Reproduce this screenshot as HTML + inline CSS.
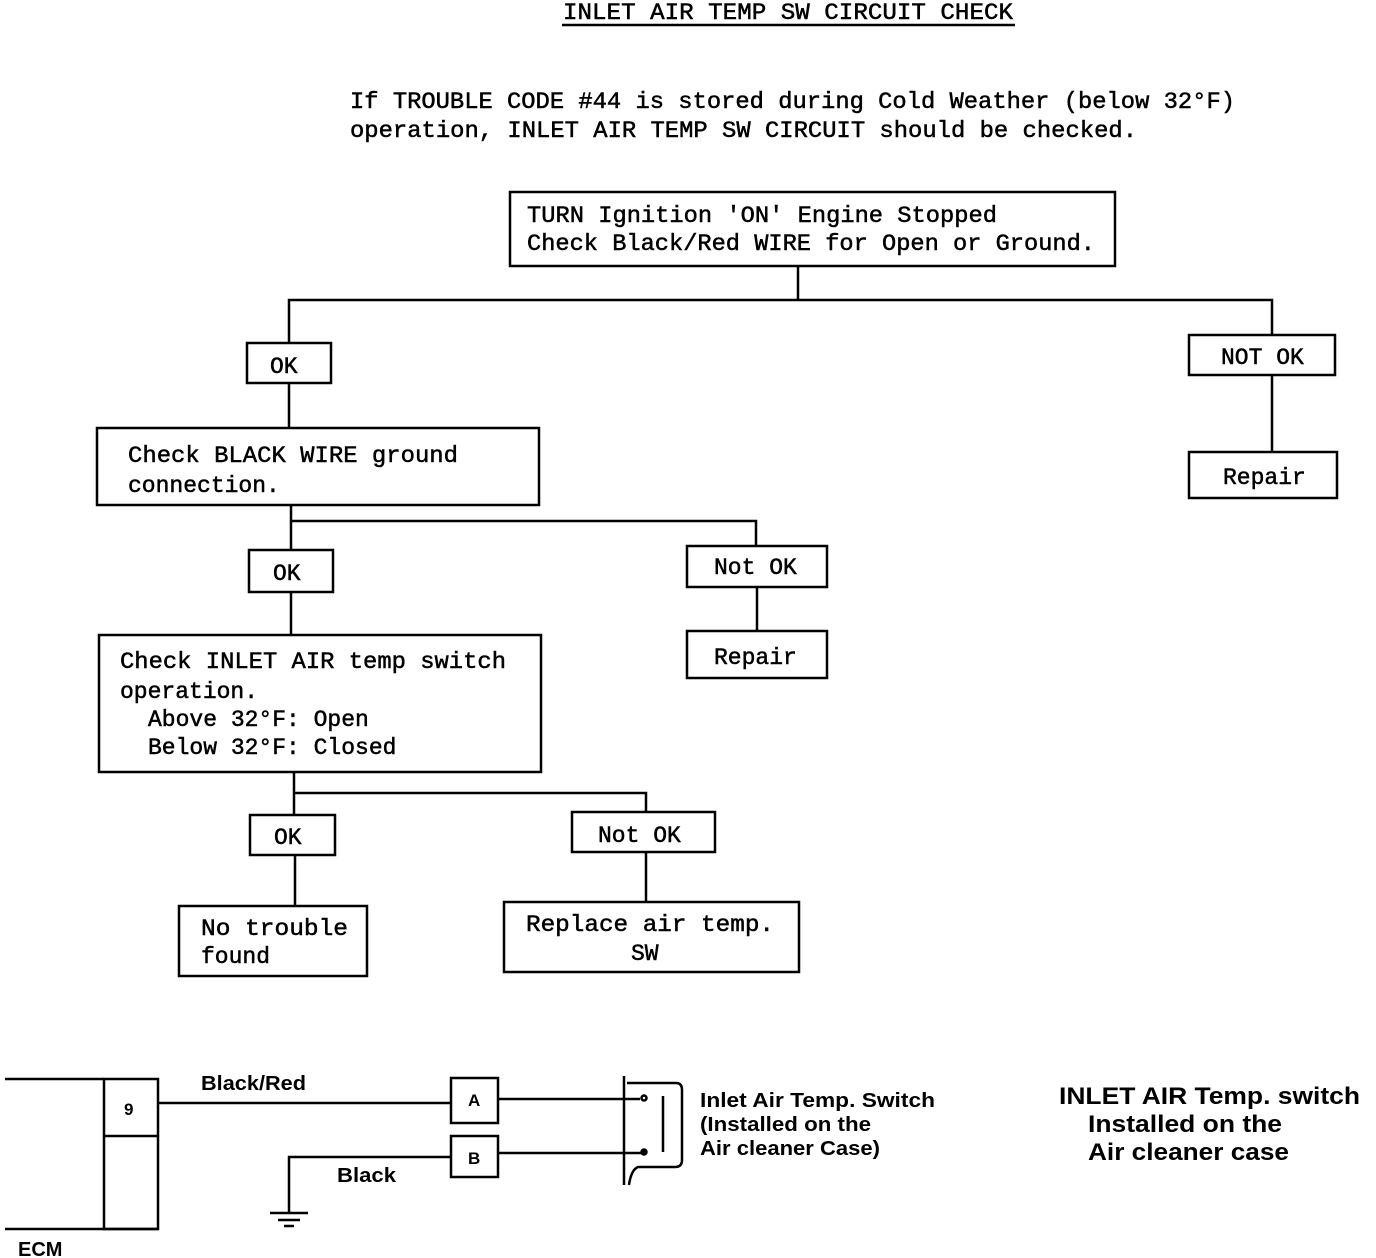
<!DOCTYPE html>
<html><head><meta charset="utf-8"><style>
html,body{margin:0;padding:0;background:#fff;}
svg{display:block}
.m{font-family:"Liberation Mono","DejaVu Sans Mono",monospace;font-size:23px;fill:#000;stroke:#000;stroke-width:0.5}
.s{font-family:"Liberation Sans",Arial,sans-serif;font-weight:bold;fill:#000}
</style></head><body>
<svg width="1376" height="1258" viewBox="0 0 1376 1258" xmlns="http://www.w3.org/2000/svg">
<g fill="none" stroke="#000" stroke-width="2.5">
<line x1="562" y1="25" x2="1015" y2="25"/>
<rect x="510" y="192" width="605" height="74"/>
<polyline points="798,266 798,300"/>
<polyline points="289,343 289,300 1272,300 1272,335"/>
<rect x="247" y="343" width="84" height="40"/>
<rect x="1189" y="335" width="146" height="40"/>
<line x1="1272" y1="375" x2="1272" y2="452"/>
<rect x="1189" y="452" width="148" height="46"/>
<line x1="289" y1="383" x2="289" y2="428"/>
<rect x="97" y="428" width="442" height="77"/>
<polyline points="291,505 291,550"/>
<polyline points="291,521 756,521 756,546"/>
<rect x="249" y="550" width="84" height="42"/>
<rect x="687" y="546" width="140" height="41"/>
<line x1="757" y1="587" x2="757" y2="631"/>
<rect x="687" y="631" width="140" height="47"/>
<line x1="291" y1="592" x2="291" y2="635"/>
<rect x="99" y="635" width="442" height="137"/>
<line x1="294" y1="772" x2="294" y2="815"/>
<polyline points="294,793 646,793 646,812"/>
<rect x="250" y="815" width="85" height="40"/>
<rect x="572" y="812" width="143" height="40"/>
<line x1="295" y1="855" x2="295" y2="906"/>
<rect x="179" y="906" width="188" height="70"/>
<line x1="646" y1="852" x2="646" y2="902"/>
<rect x="504" y="902" width="295" height="70"/>
<polyline points="5,1079 104,1079"/>
<rect x="104" y="1079" width="54" height="150"/>
<line x1="104" y1="1136" x2="158" y2="1136"/>
<line x1="5" y1="1229" x2="158" y2="1229"/>
<line x1="158" y1="1103" x2="451" y2="1103"/>
<rect x="451" y="1078" width="47" height="45"/>
<line x1="498" y1="1099" x2="640" y2="1099"/>
<rect x="451" y="1136" width="47" height="41"/>
<line x1="498" y1="1153" x2="645" y2="1153"/>
<polyline points="451,1157 289,1157 289,1213"/>
<line x1="270" y1="1213" x2="308" y2="1213"/>
<line x1="278" y1="1220" x2="300" y2="1220"/>
<line x1="284" y1="1226" x2="294" y2="1226"/>
<line x1="624" y1="1076" x2="624" y2="1185"/>
<path d="M627,1083 L676,1083 Q682,1083 682,1090 L682,1160 Q682,1167 675,1167 L638,1167 Q631,1170 629,1185"/>
<line x1="663" y1="1096" x2="663" y2="1152"/>
<circle cx="644" cy="1098" r="2.5"/>
<circle cx="644" cy="1152" r="2.5" fill="#000"/>
</g>
<text x="563" y="19" class="m" textLength="450" lengthAdjust="spacingAndGlyphs">INLET AIR TEMP SW CIRCUIT CHECK</text>
<text x="350" y="108" class="m" textLength="885" lengthAdjust="spacingAndGlyphs">If TROUBLE CODE #44 is stored during Cold Weather (below 32°F)</text>
<text x="350" y="137" class="m" textLength="787" lengthAdjust="spacingAndGlyphs">operation, INLET AIR TEMP SW CIRCUIT should be checked.</text>
<text x="527" y="222" class="m" textLength="470" lengthAdjust="spacingAndGlyphs">TURN Ignition 'ON' Engine Stopped</text>
<text x="527" y="250" class="m" textLength="568" lengthAdjust="spacingAndGlyphs">Check Black/Red WIRE for Open or Ground.</text>
<text x="270" y="373" class="m">OK</text>
<text x="1221" y="364" class="m">NOT OK</text>
<text x="1223" y="484" class="m">Repair</text>
<text x="128" y="462" class="m" textLength="330" lengthAdjust="spacingAndGlyphs">Check BLACK WIRE ground</text>
<text x="128" y="492" class="m">connection.</text>
<text x="273" y="580" class="m">OK</text>
<text x="714" y="574" class="m">Not OK</text>
<text x="714" y="664" class="m">Repair</text>
<text x="120" y="668" class="m" textLength="386" lengthAdjust="spacingAndGlyphs">Check INLET AIR temp switch</text>
<text x="120" y="698" class="m">operation.</text>
<text x="148" y="726" class="m">Above 32°F: Open</text>
<text x="148" y="754" class="m">Below 32°F: Closed</text>
<text x="274" y="844" class="m">OK</text>
<text x="598" y="842" class="m">Not OK</text>
<text x="201" y="935" class="m" textLength="147" lengthAdjust="spacingAndGlyphs">No trouble</text>
<text x="201" y="963" class="m">found</text>
<text x="526" y="931" class="m" textLength="248" lengthAdjust="spacingAndGlyphs">Replace air temp.</text>
<text x="631" y="960" class="m">SW</text>
<text x="124" y="1115" class="s" font-size="17">9</text>
<text x="201" y="1090" class="s" font-size="20" textLength="105" lengthAdjust="spacingAndGlyphs">Black/Red</text>
<text x="468" y="1106" class="s" font-size="17">A</text>
<text x="468" y="1164" class="s" font-size="17">B</text>
<text x="337" y="1182" class="s" font-size="20" textLength="59" lengthAdjust="spacingAndGlyphs">Black</text>
<text x="18" y="1256" class="s" font-size="20">ECM</text>
<text x="700" y="1107" class="s" font-size="20" textLength="235" lengthAdjust="spacingAndGlyphs">Inlet Air Temp. Switch</text>
<text x="700" y="1131" class="s" font-size="20" textLength="171" lengthAdjust="spacingAndGlyphs">(Installed on the</text>
<text x="700" y="1155" class="s" font-size="20" textLength="180" lengthAdjust="spacingAndGlyphs">Air cleaner Case)</text>
<text x="1059" y="1104" class="s" font-size="24" textLength="301" lengthAdjust="spacingAndGlyphs">INLET AIR Temp. switch</text>
<text x="1088" y="1132" class="s" font-size="24" textLength="194" lengthAdjust="spacingAndGlyphs">Installed on the</text>
<text x="1088" y="1160" class="s" font-size="24" textLength="201" lengthAdjust="spacingAndGlyphs">Air cleaner case</text>
</svg>
</body></html>
